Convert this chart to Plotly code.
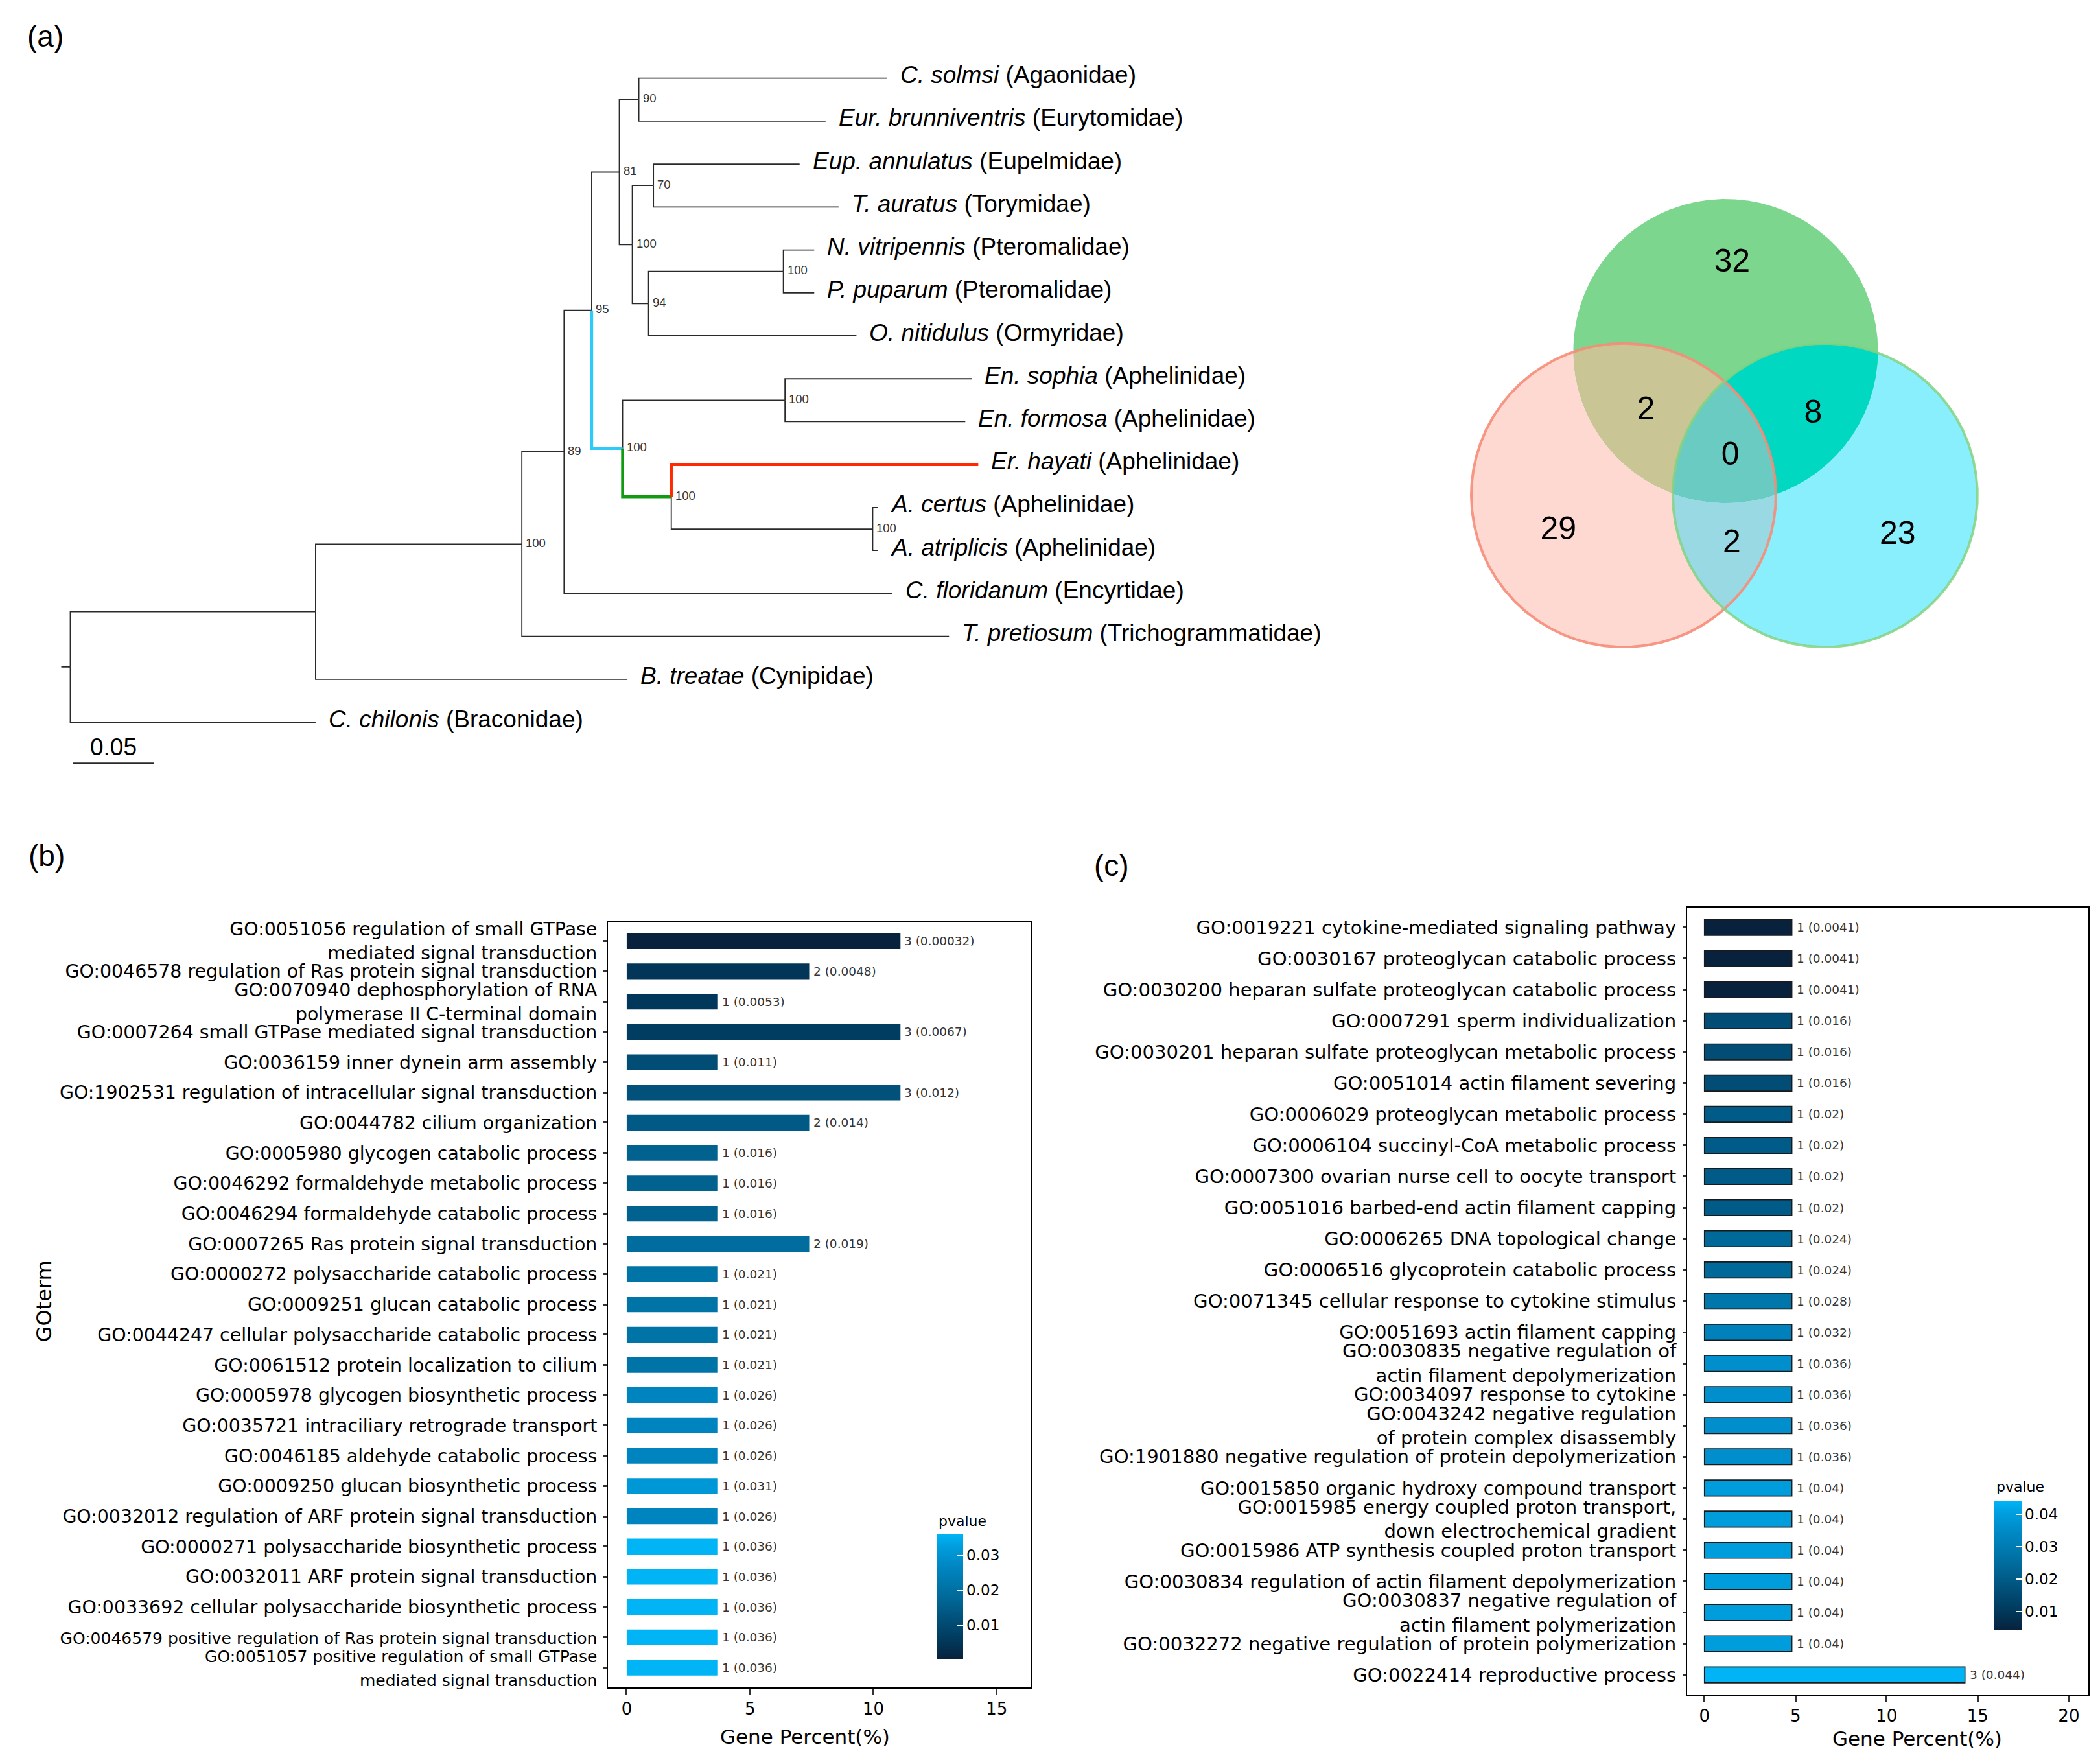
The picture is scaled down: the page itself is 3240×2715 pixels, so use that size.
import numpy as np
import plotly.graph_objects as go

W, H = 3240, 2715
FONT = "Liberation Sans, Arial, sans-serif"
FONT2 = "DejaVu Sans, sans-serif"

# ---------------- (a) phylogeny data ----------------
leaf_species = ["C. solmsi", "Eur. brunniventris", "Eup. annulatus", "T. auratus",
                "N. vitripennis", "P. puparum", "O. nitidulus", "En. sophia",
                "En. formosa", "Er. hayati", "A. certus", "A. atriplicis",
                "C. floridanum", "T. pretiosum", "B. treatae", "C. chilonis"]
leaf_family = ["Agaonidae", "Eurytomidae", "Eupelmidae", "Torymidae",
               "Pteromalidae", "Pteromalidae", "Ormyridae", "Aphelinidae",
               "Aphelinidae", "Aphelinidae", "Aphelinidae", "Aphelinidae",
               "Encyrtidae", "Trichogrammatidae", "Cynipidae", "Braconidae"]
branch_child = ["A", "C. chilonis", "B", "B. treatae", "C", "T. pretiosum",
                "D", "C. floridanum", "I", "E", "J", "K",
                "C. solmsi", "Eur. brunniventris", "L", "M",
                "Eup. annulatus", "T. auratus", "N", "O. nitidulus",
                "N. vitripennis", "P. puparum", "F", "G",
                "En. sophia", "En. formosa", "Er. hayati", "H",
                "A. certus", "A. atriplicis"]
branch_parent = ["R", "R", "A", "A", "B", "B", "C", "C", "D", "D", "I", "I",
                 "J", "J", "K", "K", "L", "L", "M", "M", "N", "N", "E", "E",
                 "F", "F", "G", "G", "H", "H"]
branch_length = [0.151, 0.151, 0.127, 0.192, 0.026, 0.263, 0.017, 0.202,
                 0.017, 0.019, 0.012, 0.008, 0.153, 0.115, 0.013, 0.010,
                 0.090, 0.114, 0.083, 0.128, 0.019, 0.019, 0.100, 0.030,
                 0.115, 0.111, 0.189, 0.124, 0.003, 0.003]
support_node = ["B", "C", "D", "I", "J", "K", "L", "M", "N", "E", "F", "G", "H"]
support_value = [100, 89, 95, 81, 90, 100, 70, 94, 100, 100, 100, 100, 100]
highlight_child = ["E", "G", "Er. hayati"]
highlight_color = ["#2FCBF6", "#129A12", "#FF2A00"]
scale_bar_value = 0.05

# ---------------- Venn data ----------------
venn_regions = [(0,), (1,), (2,), (0, 1), (0, 2), (1, 2), (0, 1, 2)]
venn_counts = [29, 32, 23, 2, 2, 8, 0]

# ---------------- (b) GO enrichment ----------------
b_terms = [
    "GO:0051056 regulation of small GTPase<br>mediated signal transduction",
    "GO:0046578 regulation of Ras protein signal transduction",
    "GO:0070940 dephosphorylation of RNA<br>polymerase II C-terminal domain",
    "GO:0007264 small GTPase mediated signal transduction",
    "GO:0036159 inner dynein arm assembly",
    "GO:1902531 regulation of intracellular signal transduction",
    "GO:0044782 cilium organization",
    "GO:0005980 glycogen catabolic process",
    "GO:0046292 formaldehyde metabolic process",
    "GO:0046294 formaldehyde catabolic process",
    "GO:0007265 Ras protein signal transduction",
    "GO:0000272 polysaccharide catabolic process",
    "GO:0009251 glucan catabolic process",
    "GO:0044247 cellular polysaccharide catabolic process",
    "GO:0061512 protein localization to cilium",
    "GO:0005978 glycogen biosynthetic process",
    "GO:0035721 intraciliary retrograde transport",
    "GO:0046185 aldehyde catabolic process",
    "GO:0009250 glucan biosynthetic process",
    "GO:0032012 regulation of ARF protein signal transduction",
    "GO:0000271 polysaccharide biosynthetic process",
    "GO:0032011 ARF protein signal transduction",
    "GO:0033692 cellular polysaccharide biosynthetic process",
    "<span style=\"font-size:25px\">GO:0046579 positive regulation of Ras protein signal transduction</span>",
    "<span style=\"font-size:25px\">GO:0051057 positive regulation of small GTPase<br>mediated signal transduction</span>",
]
b_count = [3, 2, 1, 3, 1, 3, 2, 1, 1, 1, 2, 1, 1, 1, 1, 1, 1, 1, 1, 1, 1, 1, 1, 1, 1]
b_percent = [11.1, 7.4, 3.7, 11.1, 3.7, 11.1, 7.4, 3.7, 3.7, 3.7, 7.4, 3.7, 3.7,
             3.7, 3.7, 3.7, 3.7, 3.7, 3.7, 3.7, 3.7, 3.7, 3.7, 3.7, 3.7]
b_pvalue = [0.00032, 0.0048, 0.0053, 0.0067, 0.011, 0.012, 0.014, 0.016, 0.016,
            0.016, 0.019, 0.021, 0.021, 0.021, 0.021, 0.026, 0.026, 0.026,
            0.031, 0.026, 0.036, 0.036, 0.036, 0.036, 0.036]
b_cbar_ticks = [0.01, 0.02, 0.03]
b_xticks = [0, 5, 10, 15]

# ---------------- (c) GO enrichment ----------------
c_terms = [
    "GO:0019221 cytokine-mediated signaling pathway",
    "GO:0030167 proteoglycan catabolic process",
    "GO:0030200 heparan sulfate proteoglycan catabolic process",
    "GO:0007291 sperm individualization",
    "GO:0030201 heparan sulfate proteoglycan metabolic process",
    "GO:0051014 actin filament severing",
    "GO:0006029 proteoglycan metabolic process",
    "GO:0006104 succinyl-CoA metabolic process",
    "GO:0007300 ovarian nurse cell to oocyte transport",
    "GO:0051016 barbed-end actin filament capping",
    "GO:0006265 DNA topological change",
    "GO:0006516 glycoprotein catabolic process",
    "GO:0071345 cellular response to cytokine stimulus",
    "GO:0051693 actin filament capping",
    "GO:0030835 negative regulation of<br>actin filament depolymerization",
    "GO:0034097 response to cytokine",
    "GO:0043242 negative regulation<br>of protein complex disassembly",
    "GO:1901880 negative regulation of protein depolymerization",
    "GO:0015850 organic hydroxy compound transport",
    "GO:0015985 energy coupled proton transport,<br>down electrochemical gradient",
    "GO:0015986 ATP synthesis coupled proton transport",
    "GO:0030834 regulation of actin filament depolymerization",
    "GO:0030837 negative regulation of<br>actin filament polymerization",
    "GO:0032272 negative regulation of protein polymerization",
    "GO:0022414 reproductive process",
]
c_count = [1] * 24 + [3]
c_percent = [4.8] * 24 + [14.3]
c_pvalue = [0.0041, 0.0041, 0.0041, 0.016, 0.016, 0.016, 0.02, 0.02, 0.02, 0.02,
            0.024, 0.024, 0.028, 0.032, 0.036, 0.036, 0.036, 0.036, 0.04, 0.04,
            0.04, 0.04, 0.04, 0.04, 0.044]
c_cbar_ticks = [0.01, 0.02, 0.03, 0.04]
c_xticks = [0, 5, 10, 15, 20]

# ---------------- layout constants (pixels) ----------------
TREE_ROOT_PX = 108.5
TREE_PX_PER_SUB = 2506.0
LEAF0_PX = 115.0
LEAF_STEP_PX = 66.45
TREE_BOTTOM_PX = 1250.0
TREE_RIGHT_FRAC = 0.66

VENN_BOX = (2240, 270, 3080, 1030)
VENN_ORIGIN = (2505, 760.5)
VENN_UNIT = 235.0
VENN_CENTERS = [(0.0, 0.0), (0.67, 0.951), (1.323, 0.0)]
VENN_R = 1.0
VENN_LABEL_POS = [(-0.429, -0.238), (0.712, 1.528), (1.799, -0.266),
                  (0.146, 0.554), (0.710, -0.321), (1.244, 0.533), (0.701, 0.253)]
VENN_FILL = {(0,): "#FDD9D2", (1,): "#7DD68D", (2,): "#8AEFFC",
             (0, 1): "#C9C594", (0, 2): "#98D9E4", (1, 2): "#00D8C1",
             (0, 1, 2): "#6ACBC2"}

B_BOX = (938, 1422, 1591, 2606)
C_BOX = (2603, 1400, 3222, 2617)

CS = [[0.0, "#08223D"], [0.15, "#01395C"], [0.3, "#014D76"], [0.45, "#016391"],
      [0.6, "#0076AB"], [0.75, "#0087C4"], [0.9, "#009DDD"], [1.0, "#00B4F5"]]


def fx(p):
    return p / W


def fy(p):
    return 1 - p / H


fig = go.Figure()

# ================= tree =================
children = {}
for ch, pa, ln in zip(branch_child, branch_parent, branch_length):
    children.setdefault(pa, []).append((ch, ln))

xpos = {"R": 0.0}


def walk(n):
    for ch, ln in children.get(n, []):
        xpos[ch] = xpos[n] + ln
        walk(ch)


walk("R")
ypos = {s: float(i) for i, s in enumerate(leaf_species)}


def gety(n):
    if n in ypos:
        return ypos[n]
    ys = [gety(ch) for ch, _ in children[n]]
    ypos[n] = sum(ys) / len(ys)
    return ypos[n]


gety("R")

bx, by = [], []
for ch, pa in zip(branch_child, branch_parent):
    if ch in highlight_child:
        continue
    bx += [xpos[pa], xpos[pa], xpos[ch], None]
    by += [ypos[pa], ypos[ch], ypos[ch], None]
# root stub
stub = 14.0 / TREE_PX_PER_SUB
bx += [-stub, 0.0, None]
by += [ypos["R"], ypos["R"], None]
fig.add_trace(go.Scatter(x=bx, y=by, mode="lines", line=dict(color="#2a2a2a", width=1.8),
                         xaxis="x", yaxis="y", hoverinfo="skip"))
for ch, col in zip(highlight_child, highlight_color):
    pa = branch_parent[branch_child.index(ch)]
    fig.add_trace(go.Scatter(x=[xpos[pa], xpos[pa], xpos[ch]],
                             y=[ypos[pa], ypos[ch], ypos[ch]],
                             mode="lines", line=dict(color=col, width=4.5),
                             xaxis="x", yaxis="y", hoverinfo="skip"))

annotations = []
for sp, fam in zip(leaf_species, leaf_family):
    annotations.append(dict(x=xpos[sp], y=ypos[sp], xref="x", yref="y",
                            text=f"<i>{sp}</i> ({fam})", showarrow=False,
                            xanchor="left", yanchor="middle", xshift=18, yshift=5,
                            font=dict(family=FONT, size=37, color="black")))
for nd, val in zip(support_node, support_value):
    annotations.append(dict(x=xpos[nd], y=ypos[nd], xref="x", yref="y",
                            text=str(val), showarrow=False,
                            xanchor="left", yanchor="middle", xshift=4, yshift=2,
                            font=dict(family=FONT, size=18.5, color="#333333")))

# scale bar
sb_x0 = (112.5 - TREE_ROOT_PX) / TREE_PX_PER_SUB
sb_y = (1175 - LEAF0_PX) / LEAF_STEP_PX
fig.add_trace(go.Scatter(x=[sb_x0, sb_x0 + scale_bar_value], y=[sb_y, sb_y], mode="lines",
                         line=dict(color="#2a2a2a", width=1.8), xaxis="x", yaxis="y",
                         hoverinfo="skip"))
annotations.append(dict(x=sb_x0 + scale_bar_value / 2, y=sb_y, xref="x", yref="y",
                        text=f"{scale_bar_value:g}", showarrow=False, yanchor="bottom",
                        yshift=2, font=dict(family=FONT, size=37, color="black")))

# ================= Venn =================
def inter_poly(idx, n=1440):
    xs, ys = [], []
    t = np.linspace(0, 2 * np.pi, n, endpoint=False)
    for i in idx:
        cx, cy = VENN_CENTERS[i]
        px = cx + VENN_R * np.cos(t)
        py = cy + VENN_R * np.sin(t)
        mask = np.ones_like(px, dtype=bool)
        for j in idx:
            if j == i:
                continue
            qx, qy = VENN_CENTERS[j]
            mask &= (px - qx) ** 2 + (py - qy) ** 2 <= VENN_R ** 2 + 1e-9
        xs.append(px[mask])
        ys.append(py[mask])
    xs = np.concatenate(xs)
    ys = np.concatenate(ys)
    mx, my = xs.mean(), ys.mean()
    order = np.argsort(np.arctan2(ys - my, xs - mx))
    xs, ys = xs[order], ys[order]
    return list(xs) + [xs[0]], list(ys) + [ys[0]]


for reg in [(0,), (2,), (0, 2), (1,), (0, 1), (1, 2), (0, 1, 2)]:
    vx, vy = inter_poly(reg)
    fig.add_trace(go.Scatter(x=vx, y=vy, mode="lines", fill="toself",
                             fillcolor=VENN_FILL[reg], line=dict(width=0, color=VENN_FILL[reg]),
                             xaxis="x2", yaxis="y2", hoverinfo="skip"))
for i, col in [(0, "rgba(246,140,120,0.9)"), (2, "rgba(130,210,130,0.85)")]:
    vx, vy = inter_poly((i,))
    fig.add_trace(go.Scatter(x=vx, y=vy, mode="lines", line=dict(color=col, width=4),
                             xaxis="x2", yaxis="y2", hoverinfo="skip"))
fig.add_trace(go.Scatter(x=[p[0] for p in VENN_LABEL_POS], y=[p[1] for p in VENN_LABEL_POS],
                         mode="text", text=[str(v) for v in venn_counts],
                         textfont=dict(family=FONT, size=50, color="black"),
                         xaxis="x2", yaxis="y2", hoverinfo="skip"))

# ================= bars (b) =================
nb = len(b_terms)
fig.add_trace(go.Bar(x=b_percent, y=list(range(nb)), orientation="h", width=0.52,
                     marker=dict(color=b_pvalue, coloraxis="coloraxis", line=dict(width=0)),
                     xaxis="x3", yaxis="y3", hoverinfo="skip"))
for i, (pc, cn, pv) in enumerate(zip(b_percent, b_count, b_pvalue)):
    annotations.append(dict(x=pc, y=i, xref="x3", yref="y3", text=f"{cn} ({pv:g})",
                            showarrow=False, xanchor="left", yanchor="middle", xshift=4,
                            font=dict(family=FONT2, size=18.5, color="#333333")))

# ================= bars (c) =================
nc = len(c_terms)
fig.add_trace(go.Bar(x=c_percent, y=list(range(nc)), orientation="h", width=0.51,
                     marker=dict(color=c_pvalue, coloraxis="coloraxis2",
                                 line=dict(width=1.6, color="#1a1a1a")),
                     xaxis="x4", yaxis="y4", hoverinfo="skip"))
for i, (pc, cn, pv) in enumerate(zip(c_percent, c_count, c_pvalue)):
    annotations.append(dict(x=pc, y=i, xref="x4", yref="y4", text=f"{cn} ({pv:g})",
                            showarrow=False, xanchor="left", yanchor="middle", xshift=5,
                            font=dict(family=FONT2, size=18.5, color="#333333")))

# ================= titles / labels =================
for txt, x, y in [("(a)", 70, 50), ("(b)", 72, 1318), ("(c)", 1715, 1333)]:
    annotations.append(dict(x=fx(x), y=fy(y), xref="paper", yref="paper", text=txt,
                            showarrow=False, xanchor="center", yanchor="middle",
                            font=dict(family=FONT, size=46, color="black")))
for x, y in [(1242, 2682), (2958, 2685)]:
    annotations.append(dict(x=fx(x), y=fy(y), xref="paper", yref="paper",
                            text="Gene Percent(%)", showarrow=False,
                            xanchor="center", yanchor="middle",
                            font=dict(family=FONT2, size=31, color="black")))
annotations.append(dict(x=fx(68), y=fy(2008), xref="paper", yref="paper", text="GOterm",
                        textangle=-90, showarrow=False, xanchor="center", yanchor="middle",
                        font=dict(family=FONT2, size=32, color="black")))
for x, y in [(1446, 2348), (3078, 2295)]:
    annotations.append(dict(x=fx(x), y=fy(y), xref="paper", yref="paper", text="pvalue",
                            showarrow=False, xanchor="left", yanchor="middle",
                            font=dict(family=FONT2, size=22, color="black")))


def cbar(x0, y0, length, thick, ticks):
    return dict(x=fx(x0), xanchor="left", xpad=0, y=fy(y0), yanchor="top", ypad=0,
                len=length, lenmode="pixels", thickness=thick, thicknessmode="pixels",
                outlinewidth=0, tickvals=ticks, ticktext=[f"{t:g}" for t in ticks],
                ticks="inside", ticklen=9, tickwidth=2, tickcolor="white",
                tickfont=dict(family=FONT2, size=23, color="black"), title=dict(text=""))


def bar_xaxis(box, rng, ticks, anchor):
    return dict(domain=[fx(box[0]), fx(box[2])], range=rng, anchor=anchor,
                tickvals=ticks, ticktext=[str(t) for t in ticks],
                showline=True, mirror=True, linecolor="black", linewidth=2.5,
                ticks="outside", ticklen=8, tickwidth=3, tickcolor="#333333",
                showgrid=False, zeroline=False,
                tickfont=dict(family=FONT2, size=26, color="black"))


def bar_yaxis(box, rng, labels, anchor, fsize):
    return dict(domain=[fy(box[3]), fy(box[1])], range=rng, anchor=anchor,
                tickvals=list(range(len(labels))), ticktext=labels,
                showline=True, mirror=True, linecolor="black", linewidth=2,
                ticks="outside", ticklen=5, tickwidth=3, tickcolor="#333333",
                ticklabelstandoff=4, showgrid=False, zeroline=False,
                tickfont=dict(family=FONT2, size=fsize, color="black"))


tree_x_range = [(0 - TREE_ROOT_PX) / TREE_PX_PER_SUB,
                (TREE_RIGHT_FRAC * W - TREE_ROOT_PX) / TREE_PX_PER_SUB]
tree_y_range = [(TREE_BOTTOM_PX - LEAF0_PX) / LEAF_STEP_PX, (0 - LEAF0_PX) / LEAF_STEP_PX]
venn_x_range = [(VENN_BOX[0] - VENN_ORIGIN[0]) / VENN_UNIT, (VENN_BOX[2] - VENN_ORIGIN[0]) / VENN_UNIT]
venn_y_range = [(VENN_ORIGIN[1] - VENN_BOX[3]) / VENN_UNIT, (VENN_ORIGIN[1] - VENN_BOX[1]) / VENN_UNIT]

hidden = dict(visible=False, showgrid=False, zeroline=False)
fig.update_layout(
    width=W, height=H, margin=dict(l=0, r=0, t=0, b=0),
    paper_bgcolor="white", plot_bgcolor="white", showlegend=False,
    font=dict(family=FONT, color="black"),
    xaxis=dict(domain=[0, TREE_RIGHT_FRAC], range=tree_x_range, anchor="y", **hidden),
    yaxis=dict(domain=[fy(TREE_BOTTOM_PX), 1], range=tree_y_range, anchor="x", **hidden),
    xaxis2=dict(domain=[fx(VENN_BOX[0]), fx(VENN_BOX[2])], range=venn_x_range, anchor="y2", **hidden),
    yaxis2=dict(domain=[fy(VENN_BOX[3]), fy(VENN_BOX[1])], range=venn_y_range, anchor="x2", **hidden),
    xaxis3=bar_xaxis(B_BOX, [-0.76, 16.4], b_xticks, "y3"),
    yaxis3=bar_yaxis(B_BOX, [24.66, -0.61], b_terms, "x3", 28.4),
    xaxis4=bar_xaxis(C_BOX, [-0.95, 21.07], c_xticks, "y4"),
    yaxis4=bar_yaxis(C_BOX, [24.64, -0.61], c_terms, "x4", 29.1),
    coloraxis=dict(colorscale=CS, cmin=min(b_pvalue), cmax=max(b_pvalue),
                   colorbar=cbar(1446, 2369, 192, 40, b_cbar_ticks)),
    coloraxis2=dict(colorscale=CS, cmin=min(c_pvalue), cmax=max(c_pvalue),
                    colorbar=cbar(3077, 2318, 199, 42, c_cbar_ticks)),
    annotations=annotations,
)

fig.write_html("out.html", config={"displayModeBar": False},
               post_script="document.body.style.margin='0';document.body.style.overflow='hidden';")
